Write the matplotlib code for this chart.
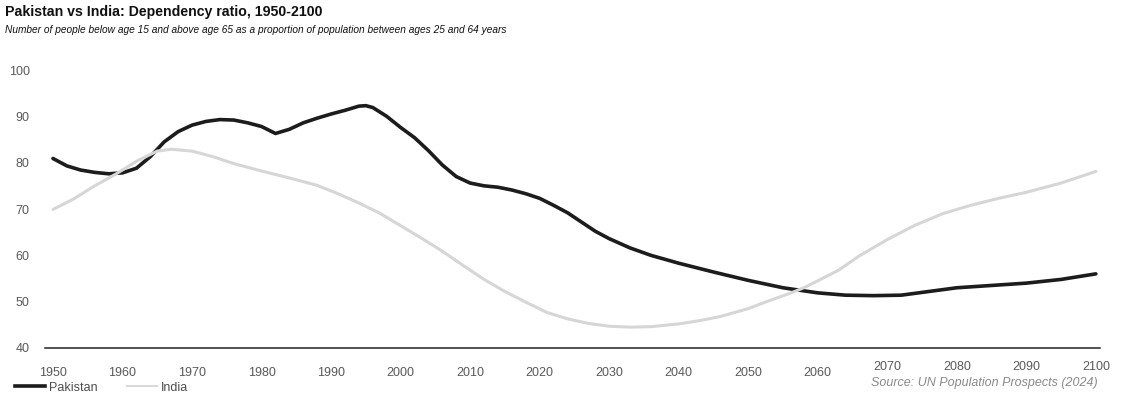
import matplotlib
matplotlib.use("Agg")
import matplotlib.pyplot as plt
from matplotlib import font_manager
from matplotlib.transforms import ScaledTranslation
from matplotlib.lines import Line2D

# data
pak_years = [1950, 1952, 1954, 1956, 1958, 1960, 1962, 1964, 1966, 1968,
             1970, 1972, 1974, 1976, 1978, 1980, 1982, 1984, 1986, 1988,
             1990, 1992, 1994, 1995, 1996, 1998, 2000, 2002, 2004, 2006,
             2008, 2010, 2012, 2014, 2016, 2018, 2020, 2022, 2024, 2026,
             2028, 2030, 2033, 2036, 2040, 2045, 2050, 2055, 2060, 2064,
             2068, 2072, 2076, 2080, 2085, 2090, 2095, 2100]
pak_values = [80.9, 79.3, 78.4, 77.9, 77.6, 77.8, 78.8, 81.3, 84.5, 86.7,
              88.1, 88.9, 89.3, 89.2, 88.6, 87.8, 86.3, 87.2, 88.6, 89.6,
              90.5, 91.3, 92.2, 92.3, 91.9, 90.0, 87.6, 85.4, 82.6, 79.5,
              77.0, 75.6, 75.0, 74.7, 74.1, 73.3, 72.3, 70.8, 69.2, 67.2,
              65.2, 63.6, 61.6, 60.0, 58.3, 56.4, 54.6, 53.0, 51.9, 51.4,
              51.3, 51.4, 52.2, 53.0, 53.5, 54.0, 54.8, 56.0]

ind_years = [1950, 1953, 1956, 1959, 1962, 1965, 1967, 1970, 1973, 1976,
             1980, 1984, 1988, 1991, 1994, 1997, 2000, 2003, 2006, 2009,
             2012, 2015, 2018, 2021, 2024, 2027, 2030, 2033, 2036, 2040,
             2043, 2046, 2050, 2053, 2056, 2058, 2060, 2063, 2066, 2070,
             2074, 2078, 2082, 2086, 2090, 2095, 2100]
ind_values = [69.9, 72.2, 75.0, 77.5, 80.3, 82.5, 82.9, 82.5, 81.3, 79.8,
              78.2, 76.7, 75.1, 73.3, 71.3, 69.1, 66.4, 63.7, 60.9, 57.8,
              54.8, 52.2, 49.9, 47.7, 46.3, 45.3, 44.7, 44.5, 44.6, 45.2,
              45.9, 46.8, 48.5, 50.2, 51.8, 53.0, 54.5, 56.8, 59.9, 63.4,
              66.5, 69.0, 70.8, 72.3, 73.6, 75.6, 78.1]

x_ticks = list(range(1950, 2101, 10))
y_ticks = list(range(40, 101, 10))


def has_font(name):
    try:
        font_manager.findfont(name, fallback_to_default=False)
        return True
    except Exception:
        return False

base = "Liberation Sans" if has_font("Liberation Sans") else "DejaVu Sans"
plt.rcParams['font.family'] = [base, 'DejaVu Sans']

fig = plt.figure(figsize=(11.3, 3.94), dpi=100)
ax = fig.add_axes([45 / 1130, 1 - 348 / 394, 1055 / 1130, 278 / 394])

ax.plot(pak_years, pak_values, color='#1c1c1c', lw=2.6, solid_capstyle='round', zorder=3)
ax.plot(ind_years, ind_values, color='#d6d6d6', lw=2.2, solid_capstyle='round', zorder=4)

ax.set_xlim(1948.85, 2100.6)
ax.set_ylim(40, 100)
ax.set_xticks(x_ticks)
ax.set_yticks(y_ticks)
for s in ['top', 'right', 'left']:
    ax.spines[s].set_visible(False)
ax.spines['bottom'].set_color('#222222')
ax.spines['bottom'].set_linewidth(1.1)
ax.tick_params(axis='both', length=0, labelsize=9, labelcolor='#595959')
ax.tick_params(axis='y', pad=11)
ax.tick_params(axis='x', pad=14)

# the last few year labels sit a bit higher in the original
for lab in ax.get_xticklabels():
    if int(lab.get_text().replace('\u2212', '-')) >= 2070:
        lab.set_transform(lab.get_transform() + ScaledTranslation(0, 5 / 72, fig.dpi_scale_trans))

# title and subtitle
fig.text(5 / 1130, 1 - 5 / 394, "Pakistan vs India: Dependency ratio, 1950-2100",
         fontsize=10.2, fontweight='bold', va='top', color='#111111')
fig.text(5 / 1130, 1 - 25 / 394,
         "Number of people below age 15 and above age 65 as a proportion of population between ages 25 and 64 years",
         fontsize=7.3, style='italic', va='top', color='#111111')

# legend
handles = [Line2D([], [], color='#1c1c1c', lw=2.6),
           Line2D([], [], color='#d8d8d8', lw=1.4)]
fig.legend(handles, ['Pakistan', 'India'], loc='lower left', bbox_to_anchor=(10 / 1130, -0.012),
           ncol=2, frameon=False, fontsize=9, labelcolor='#4d4d4d',
           handlelength=2.4, handletextpad=0.3, columnspacing=2.4, borderaxespad=0)

fig.text(1098 / 1130, 1 - 383 / 394, "Source: UN Population Prospects (2024)",
         fontsize=9, style='italic', color='#8a8a8a', ha='right', va='center')

fig.savefig("out.png", dpi=100)
